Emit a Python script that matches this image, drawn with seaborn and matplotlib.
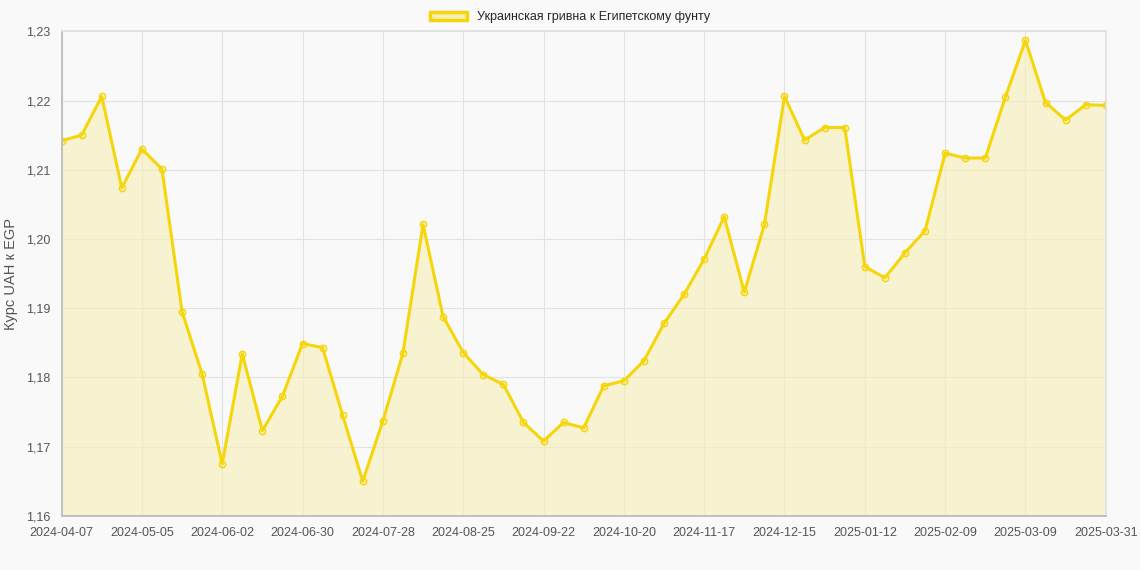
import matplotlib
matplotlib.use("Agg")
import matplotlib.pyplot as plt
import seaborn as sns
import pandas as pd
from matplotlib.patches import Patch
from matplotlib.ticker import FuncFormatter

values = [1.2142,1.2150,1.2206,1.2074,1.2130,1.2101,1.1895,1.1805,1.1675,1.1834,
          1.1723,1.1773,1.1849,1.1843,1.1745,1.1650,1.1737,1.1835,1.2021,1.1888,
          1.1836,1.1804,1.1790,1.1735,1.1708,1.1735,1.1727,1.1788,1.1795,1.1824,
          1.1878,1.1920,1.1971,1.2032,1.1923,1.2021,1.2206,1.2143,1.2161,1.2161,
          1.1960,1.1944,1.1980,1.2012,1.2124,1.2117,1.2117,1.2205,1.2287,1.2197,
          1.2172,1.2194,1.2193]
tick_labels = ["2024-04-07","2024-05-05","2024-06-02","2024-06-30","2024-07-28",
               "2024-08-25","2024-09-22","2024-10-20","2024-11-17","2024-12-15",
               "2025-01-12","2025-02-09","2025-03-09","2025-03-31"]
tick_idx = list(range(0, 49, 4)) + [52]
series_name = "Украинская гривна к Египетскому фунту"
y_label = "Курс UAH к EGP"

sns.set_theme(style="white")
plt.rcParams['font.family'] = ['Liberation Sans', 'DejaVu Sans']
df = pd.DataFrame({"i": range(len(values)), "v": values})

fig = plt.figure(figsize=(11.4, 5.7), dpi=100)
fig.patch.set_facecolor("#f9f9f9")
ax = fig.add_axes([0.054, 0.095, 0.916, 0.85])
ax.set_facecolor("#f9f9f9")
color = "#F5D60A"
ax.fill_between(df["i"], df["v"], 1.16, color="#F7EEB5", alpha=0.6, lw=0)
sns.lineplot(data=df, x="i", y="v", ax=ax, color=color, lw=2.2,
             marker="o", markersize=4.5, markerfacecolor="none",
             markeredgecolor=color, markeredgewidth=1.1)
ax.set_xlim(0, len(values) - 1)
ax.set_ylim(1.16, 1.23)
ax.set_xticks(tick_idx)
ax.set_xticklabels(tick_labels, fontsize=9, color="#555")
ax.set_yticks([1.16 + 0.01 * k for k in range(8)])
ax.yaxis.set_major_formatter(FuncFormatter(lambda v, p: f"{v:.2f}".replace(".", ",")))
ax.tick_params(axis="y", labelsize=9, labelcolor="#555", pad=2)
ax.tick_params(axis="x", pad=2)
ax.grid(True, color="#e2e2e2", lw=0.8)
for s in ax.spines.values():
    s.set_color("#e0e0e0")
ax.spines["left"].set_color("#bbbbbb")
ax.spines["bottom"].set_color("#bbbbbb")
ax.set_xlabel("")
ax.set_ylabel(y_label, fontsize=10.5, color="#555", labelpad=6)
fig.legend(handles=[Patch(facecolor="#F7EEB5", edgecolor=color, lw=2.5, label=series_name)],
           loc="upper center", bbox_to_anchor=(0.5, 1.0), frameon=False, fontsize=9,
           handlelength=3)
fig.savefig("out.png", dpi=100, facecolor=fig.get_facecolor())
